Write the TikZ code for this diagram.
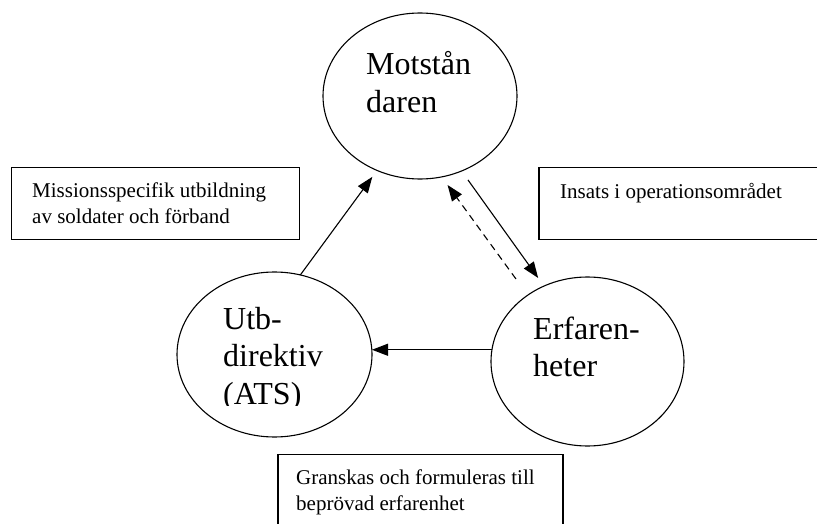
\documentclass[tikz,border=0pt]{standalone}
\usepackage{fontspec}
\setmainfont{Liberation Serif}
\usetikzlibrary{positioning,shapes.geometric,arrows.meta}
\tikzset{
  circ/.style={draw, ellipse, line width=1.1pt, inner sep=0pt, outer sep=0pt},
  infobox/.style={draw, line width=1.1pt, inner sep=0pt, outer sep=0pt, anchor=north west},
  biglabel/.style={font=\fontsize{32}{37.5}\selectfont, align=left, inner sep=0pt, anchor=base west},
  smalllabel/.style={font=\fontsize{21}{26}\selectfont, align=left, inner sep=0pt, anchor=base west},
  flow/.style={line width=1.1pt, -{Triangle[length=16pt,width=12pt]}},
}
\begin{document}
\begin{tikzpicture}[x=1pt,y=-1pt]
        \clip (0,0) rectangle (817,524);
        \node [circ, minimum width=194pt, minimum height=166pt] (Mot) at (420,96) {};
        \node [circ, on grid, below left=258.5pt and 145.5pt of Mot, minimum width=195pt, minimum height=165pt] (Utb) {};
        \node [circ, on grid, below right=265.5pt and 167.5pt of Mot, minimum width=193pt, minimum height=169pt] (Erf) {};
        % multi-line labels sit on their last baseline
        \node [biglabel] (MotText) at (366,112.5) {Motstån\\daren};
        \node [biglabel] (ErfText) at (533,376.5) {Erfaren-\\heter};
        \begin{scope}
          \clip (200,280) rectangle (360,405);
          \node [biglabel] (UtbText) at (223,404) {Utb-\\direktiv\\(ATS)};
        \end{scope}
        \node [infobox, minimum width=288pt, minimum height=72pt] (MissionBox) at (11.5,167.5) {};
        \node [smalllabel] (MissionText) at (32,223.5) {Missionsspecifik utbildning\\av soldater och förband};
        \node [infobox, minimum width=300pt, minimum height=72pt] (InsatsBox) at (539,167.5) {};
        \node [smalllabel] (InsatsText) at (560,198) {Insats i operationsområdet};
        \node [infobox, minimum width=285pt, minimum height=100pt] (GranskBox) at (278,454.5) {};
        \node [smalllabel] (GranskText) at (296,510.5) {Granskas och formuleras till\\beprövad erfarenhet};
        \draw [flow, shorten >=8pt] (Utb.72) to (Mot.240);
        \draw [flow, shorten <=11pt, shorten >=10pt] (Mot.-61) to (Erf.120);
        \draw [flow, dash pattern=on 7pt off 5pt, shorten <=20pt, shorten >=10pt] (Erf.132) to (Mot.-75);
        \draw [flow] (Erf.173) to (Erf.173 -| Utb.east);
      \end{tikzpicture}
\end{document}
